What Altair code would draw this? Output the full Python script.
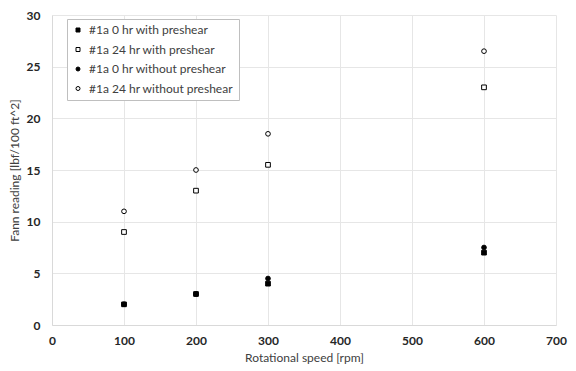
import altair as alt
import pandas as pd

rpm = [100, 200, 300, 600]
series_names = ["#1a 0 hr with preshear", "#1a 24 hr with preshear",
                "#1a 0 hr without preshear", "#1a 24 hr without preshear"]
with_0 = [2, 3, 4, 7]
with_24 = [9, 13, 15.5, 23]
without_0 = [2, 3, 4.5, 7.5]
without_24 = [11, 15, 18.5, 26.5]
x_ticks = [0, 100, 200, 300, 400, 500, 600, 700]
y_ticks = [0, 5, 10, 15, 20, 25, 30]

rows = []
for name, vals in zip(series_names, [with_0, with_24, without_0, without_24]):
    for x, y in zip(rpm, vals):
        rows.append({"rpm": x, "fann": y, "series": name})
df = pd.DataFrame(rows)

font = "Lato"
chart = alt.Chart(df).mark_point(filled=True, size=22, stroke="black", strokeWidth=1, opacity=1).encode(
    x=alt.X("rpm:Q", title="Rotational speed [rpm]",
            scale=alt.Scale(domain=[0, 700], nice=False),
            axis=alt.Axis(values=x_ticks, labelOverlap=False, labelFlush=False)),
    y=alt.Y("fann:Q", title="Fann reading [lbf/100 ft^2]",
            scale=alt.Scale(domain=[0, 30], nice=False),
            axis=alt.Axis(values=y_ticks, labelOverlap=False, labelFlush=False)),
    shape=alt.Shape("series:N", sort=series_names,
                    scale=alt.Scale(domain=series_names, range=["square", "square", "circle", "circle"]),
                    legend=alt.Legend(title=None, orient="none", legendX=15, legendY=4,
                                      strokeColor="#bfbfbf", padding=5, fillColor="white",
                                      labelFont=font, labelFontSize=12, labelColor="#404040",
                                      symbolSize=16, rowPadding=7.5, symbolStrokeWidth=1,
                                      labelOffset=5)),
    fill=alt.Fill("series:N", sort=series_names,
                  scale=alt.Scale(domain=series_names, range=["black", "white", "black", "white"]),
                  legend=alt.Legend(title=None, orient="none", legendX=15, legendY=4)),
    order=alt.Order("series:N"),
).properties(
    width=504, height=310,
    autosize=alt.AutoSizeParams(type="none"),
    padding={"left": 44, "top": 7, "right": 12, "bottom": 46},
).configure_axis(
    labelFont=font, titleFont=font, labelFontSize=12, titleFontSize=12,
    labelFontWeight="bold",
    labelColor="#262626", titleColor="#404040", titleFontWeight="normal",
    gridColor="#e6e6e6", domain=True, domainColor="#d9d9d9", ticks=False,
).configure_axisX(
    labelPadding=10, titlePadding=6,
).configure_axisY(
    labelPadding=12, titlePadding=5,
).configure_view(stroke=None)

chart.save("out.html", embed_options={"renderer": "svg", "actions": False})
